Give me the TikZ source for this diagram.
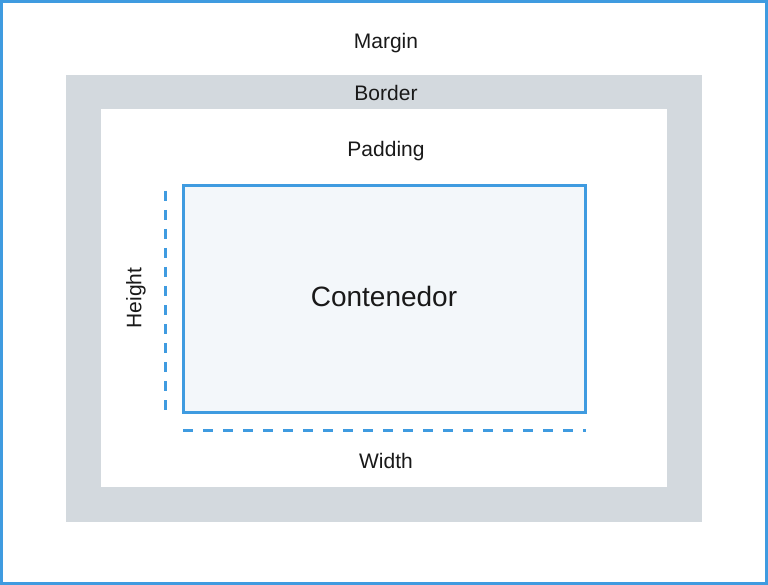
\documentclass[tikz,border=0pt]{standalone}
\usepackage{fontspec}
\setmainfont{Liberation Sans}
\usepackage{xcolor}
\usetikzlibrary{positioning}
\definecolor{boxblue}{HTML}{3F9BE0}
\definecolor{bordergray}{HTML}{D3D9DE}
\definecolor{contentfill}{HTML}{F3F7FA}
\tikzset{
  lbl/.style={inner sep=0pt, font=\fontsize{21}{23}\selectfont, text=black!90},
  dimline/.style={boxblue, line width=3pt, dash pattern=on 10pt off 10pt}
}

\begin{document}
\begin{tikzpicture}[x=1pt,y=-1pt]
            \useasboundingbox (0,0) rectangle (768,585);
            \draw[boxblue, line width=3pt] (1.5,1.5) rectangle (766.5,583.5);
            \fill[bordergray] (66,75) rectangle (702,522);
            \fill[white] (101,109) rectangle (667,487);
            \draw[boxblue, fill=contentfill, line width=3pt] (183,186) rectangle (585,412);
            \coordinate (htop) at (165,191);
            \coordinate (hbot) at (165,410);
            \coordinate (wleft) at (183,430);
            \coordinate (wright) at (586,430);
            \draw[dimline, dash pattern=on 10pt off 9pt] (htop) -- (hbot);
            \draw[dimline] (wleft) -- (wright);
            \node[lbl] (margin) at (386,43) {Margin};
            \node[lbl] (border) at (386,93) {Border};
            \node[lbl] (padding) at (386,151) {Padding};
            \node[lbl, font=\fontsize{28}{30}\selectfont] (content) at (384,296) {Contenedor};
            \node[lbl, rotate=90] (height) at (136,298) {Height};
            \node[lbl] (width) at (386,461) {Width};
        \end{tikzpicture}
\end{document}
